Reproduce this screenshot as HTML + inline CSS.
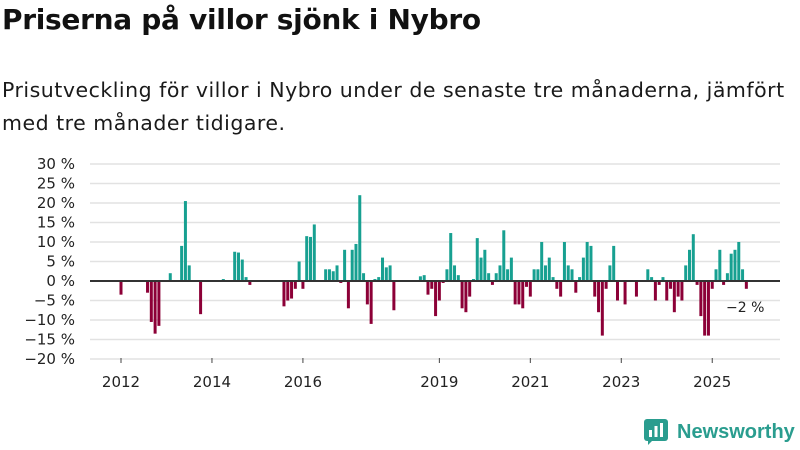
<!DOCTYPE html>
<html><head><meta charset="utf-8"><style>
body{margin:0;width:800px;height:450px;background:#fff;font-family:"Liberation Sans","DejaVu Sans",sans-serif;overflow:hidden;position:relative;color:#111}
h1{position:absolute;left:2px;top:3px;margin:0;font-size:28px;font-weight:bold;font-family:"DejaVu Sans","Liberation Sans",sans-serif;letter-spacing:-0.3px}
p{position:absolute;left:2px;top:74px;margin:0;font-size:20.5px;line-height:33px;font-family:"DejaVu Sans","Liberation Sans",sans-serif;color:#1a1a1a;width:792px;letter-spacing:0.5px}
svg{position:absolute;left:0;top:0}
.logo{position:absolute;left:644px;top:419px;display:flex;align-items:center;gap:7px;color:#2a9d8f;font-weight:bold;font-size:20px;font-family:"Liberation Sans","DejaVu Sans",sans-serif}
</style></head><body>
<h1>Priserna på villor sjönk i Nybro</h1>
<p>Prisutveckling för villor i Nybro under de senaste tre månaderna, jämfört med tre månader tidigare.</p>
<svg id="chart" width="800" height="450"></svg>
<div class="logo">
<svg width="26" height="26" viewBox="0 0 26 26" style="position:static"><rect x="0" y="0" width="24" height="22" rx="3" fill="#2a9d8f"/><path d="M4 26 L4 20 L10 20 Z" fill="#2a9d8f"/><rect x="5" y="11" width="3" height="7" fill="#fff"/><rect x="10.5" y="7" width="3" height="11" fill="#fff"/><rect x="16" y="4" width="3" height="14" fill="#fff"/></svg>
<span>Newsworthy</span></div>
<script>
const monthIndex=[0,7,8,9,10,13,16,17,18,21,27,30,31,32,33,34,43,44,45,46,47,48,49,50,51,54,55,56,57,58,59,60,61,62,63,64,65,66,67,68,69,70,71,72,79,80,81,82,83,84,85,86,87,88,89,90,91,92,93,94,95,96,97,98,99,100,101,102,103,104,105,106,107,108,109,110,111,112,113,114,115,116,117,118,119,120,121,122,123,124,125,126,127,128,129,130,131,133,136,139,140,141,142,143,144,145,146,147,148,149,150,151,152,153,154,155,156,157,158,159,160,161,162,163,164,165];
const changeValues=[-3.5,-3,-10.5,-13.5,-11.5,2,9,20.5,4,-8.5,0.5,7.5,7.3,5.5,1,-1,-6.5,-5,-4.5,-2,5,-2,11.5,11.3,14.5,3,3,2.5,4,-0.5,8,-7,8,9.5,22,2,-6,-11,0.5,1,6,3.5,4,-7.5,1.2,1.5,-3.5,-2,-9,-5,-0.5,3,12.3,4,1.5,-7,-8,-4,0.5,11,6,8,2,-1,2,4,13,3,6,-6,-6,-7,-1.5,-4,3,3,10,4,6,1,-2,-4,10,4,3,-3,1,6,10,9,-4,-8,-14,-2,4,9,-5,-6,-4,3,1,-5,-1,1,-5,-2,-8,-4,-5,4,8,12,-1,-9,-14,-14,-2,3,8,-1,2,7,8,10,3,-2];
const yTickValues=[30,25,20,15,10,5,0,-5,-10,-15,-20];
const xTickYears=[2012,2014,2016,2019,2021,2023,2025];
const lastLabel="\u22122 %";
const svg=document.getElementById('chart');
const NS='http://www.w3.org/2000/svg';
const x0=121,mw=3.79,yZero=281,pxPer=3.9;
const xs=m=>x0+m*mw;
const ys=v=>yZero-v*pxPer;
function el(t,a){const e=document.createElementNS(NS,t);for(const k in a)e.setAttribute(k,a[k]);svg.appendChild(e);return e;}
yTickValues.forEach(v=>{
 const g=el('line',{x1:90,x2:780,y1:ys(v),y2:ys(v),stroke:'#e2e2e2','stroke-width':1.5});
 
 
 const t=el('text',{x:75,y:ys(v)+5,'text-anchor':'end','font-size':15,fill:'#222','font-family':'DejaVu Sans, Liberation Sans, sans-serif'});
 t.textContent=(v<0?'\u2212'+(-v):v)+' %';
 
 
});
xTickYears.forEach(yr=>{
 const x=xs((yr-2012)*12);
 const l=el('line',{x1:x,x2:x,y1:358,y2:363,stroke:'#444','stroke-width':1});
 
 
 const t=el('text',{x:x,y:387,'text-anchor':'middle','font-size':15,fill:'#222','font-family':'DejaVu Sans, Liberation Sans, sans-serif'});
 t.textContent=yr;
 
 
});
monthIndex.forEach((m,i)=>{
 const v=changeValues[i];
 const y=Math.min(ys(v),yZero),h=Math.abs(ys(v)-yZero);
 const r=el('rect',{x:xs(m)-1.5,y:y,width:3,height:Math.max(h,0.5),fill:v>=0?'#17a091':'#8c0037'});
 
 
});
const z=el('line',{x1:90,x2:780,y1:yZero,y2:yZero,stroke:'#333','stroke-width':2});


const lt=el('text',{x:726,y:312,'font-size':14,fill:'#222','font-family':'DejaVu Sans, Liberation Sans, sans-serif'});
lt.textContent=lastLabel;


</script>
</body></html>
